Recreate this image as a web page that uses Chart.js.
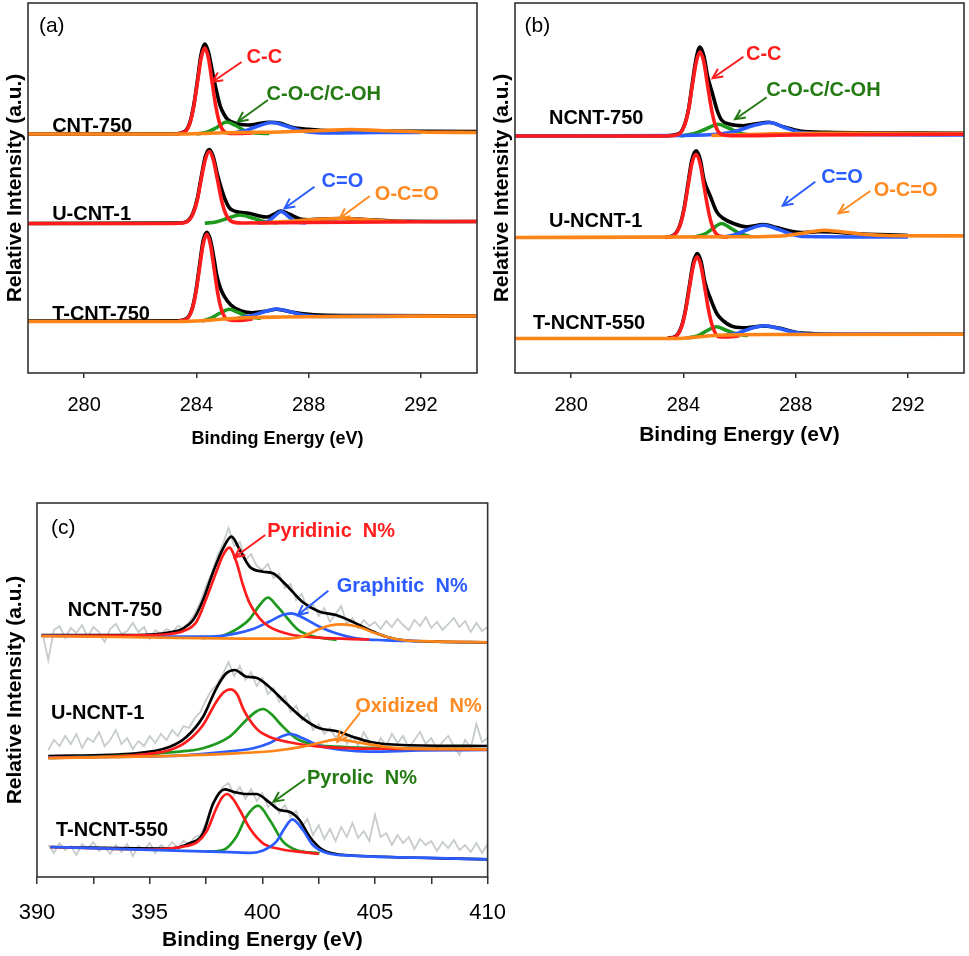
<!DOCTYPE html>
<html>
<head>
<meta charset="utf-8">
<title>XPS C1s / N1s</title>
<script src="https://cdn.jsdelivr.net/npm/chart.js@4.4.1/dist/chart.umd.min.js"></script>
<style>
  html, body { margin: 0; padding: 0; background: #fff; overflow: hidden; }
  canvas { position: absolute; }
</style>
</head>
<body>
<canvas id="chartA" width="485" height="452" style="left:0;top:0"></canvas>
<canvas id="chartB" width="479" height="452" style="left:490px;top:0"></canvas>
<canvas id="chartC" width="522" height="463" style="left:0;top:490px"></canvas>
<script>
// ---- tick values ----
const ticksC1s = [280, 284, 288, 292];
const ticksN1s = [390, 392.5, 395, 397.5, 400, 402.5, 405, 407.5, 410];
const labelsN1s = [390, 395, 400, 405, 410];

// ---- panel (a) : C1s, heights above each spectrum's baseline, [eV, height] ----
const aCnt750Black = [[278,0],[283.3,0.3],[283.6,2.8],[283.78,12.5],[283.91,29.5],[284.04,54],[284.17,80],[284.3,90],[284.43,82],[284.56,64],[284.7,45],[284.85,28],[285.0,19],[285.1,15],[285.4,10.7],[285.8,9],[286.1,9.7],[286.6,11.7],[286.96,11],[287.4,6.7],[288.0,4.7],[288.75,3.3],[290,3],[294,2.5]];
const aCnt750Red = [[283.3,0],[283.6,2.3],[283.78,11.6],[283.91,28],[284.04,52],[284.17,76],[284.3,86],[284.43,76],[284.56,52],[284.69,28],[284.82,11.6],[285.0,2.3],[285.3,0.5],[286,1]];
const aCnt750Green = [[284.0,0],[284.4,2],[284.7,6],[285.07,12],[285.4,8.5],[285.7,3.5],[286.1,1],[286.6,0.5]];
const aCnt750Blue = [[285.2,0.5],[285.7,3],[286.2,8],[286.7,11.5],[287.2,8],[287.7,3.5],[288.2,1.5],[288.8,1],[290.5,1.5],[292,1.5]];
const aCnt750Orange = [[278,0],[283.5,0],[284.5,0.8],[285.5,1.5],[287,2],[288.5,3.5],[289.5,4.5],[290.5,3.5],[292,2],[294,1.5]];

const aUcnt1Black = [[278,0],[283.36,0.4],[283.66,2],[283.88,10.5],[284.03,24.5],[284.17,46],[284.32,67],[284.46,74],[284.6,67],[284.75,49],[284.88,36],[285.04,23],[285.18,15.5],[285.4,12],[285.9,10],[286.25,7.5],[286.5,6.5],[286.75,9],[287.0,12.5],[287.3,9.5],[287.7,4.5],[288.0,3.8],[288.5,4.5],[289.2,5],[290,4],[291,2.5],[294,2]];
const aUcnt1Red = [[278,0],[283.0,0],[283.36,0.3],[283.66,1.6],[283.88,9.7],[284.03,23],[284.17,44],[284.32,64],[284.46,72],[284.6,64],[284.75,44],[284.9,23],[285.04,10],[285.26,2],[285.6,0.5],[288,1],[294,2]];
const aUcnt1Green = [[284.3,0.3],[284.7,1.5],[285.1,5],[285.54,8.5],[286.0,5.5],[286.4,2],[286.9,0.6]];
const aUcnt1Blue = [[286.2,0.4],[286.5,1.5],[286.75,6.5],[287.02,12],[287.3,6.5],[287.55,1.5],[287.9,0.6]];
const aUcnt1Orange = [[286.3,0.5],[287.5,2.5],[288.5,4.5],[289.2,5],[290,4],[290.8,2.5],[291.5,2]];

const aTcnt750Black = [[278,0],[283.37,0.3],[283.67,2.8],[283.85,12.5],[283.98,29.5],[284.11,55],[284.24,80],[284.37,88.7],[284.5,81],[284.63,62],[284.74,44],[284.87,32],[285.0,24.3],[285.23,16],[285.6,10],[286.0,8.3],[286.5,10],[286.85,11.7],[287.44,8.7],[288.0,6.7],[288.4,6],[290,5.5],[294,5]];
const aTcnt750Red = [[283.37,0],[283.67,2.3],[283.85,11.7],[283.98,28],[284.11,52.6],[284.24,76.5],[284.37,86.7],[284.5,76.5],[284.63,52.6],[284.76,28],[284.89,11.7],[285.07,2.3],[285.4,0.5],[286,2]];
const aTcnt750Green = [[284.2,0],[284.5,2.5],[284.85,8],[285.18,11.7],[285.5,8.5],[285.9,4],[286.3,2.8]];
const aTcnt750Blue = [[285.5,3],[286.0,5.5],[286.45,9.5],[286.85,12],[287.3,9.5],[287.8,6],[288.4,4.5],[290,4.6],[292,4.8]];
const aTcnt750Orange = [[278,-0.5],[283.5,-0.5],[284.3,0.5],[285.0,2],[286.0,3.5],[287,4],[289,4.5],[294,5]];

// ---- panel (b) : C1s ----
const bNcnt750Black = [[278,0],[283.4,0.3],[283.84,2.3],[284.05,12],[284.19,28],[284.32,53],[284.46,78],[284.59,89],[284.73,80],[284.86,60],[285.04,42],[285.2,26],[285.36,16],[285.66,11.7],[286.14,10.3],[286.61,12.3],[287.03,13.7],[287.56,9.3],[288.16,5],[289.1,3.7],[294,2.7]];
const bNcnt750Red = [[278,0],[283.4,0],[283.84,1.8],[284.05,11.4],[284.19,27],[284.32,51],[284.46,74],[284.59,84],[284.73,74],[284.86,51],[285.0,27],[285.13,11.4],[285.34,1.8],[285.7,0.3],[288,1],[294,1.7]];
const bNcnt750Green = [[283.9,0],[284.4,2.5],[284.8,7],[285.24,11.7],[285.6,8],[286.0,3],[286.4,0.8]];
const bNcnt750Blue = [[278,0],[284,0.5],[285.3,2],[285.9,5],[286.5,10.5],[287.09,13.5],[287.6,8.5],[288.1,4],[288.6,2.5],[290,1.5],[294,1]];
const bNcnt750Orange = [[285,0.5],[287,2],[289,2.8],[291,2.5],[294,2.5]];

const bUncnt1Black = [[283.35,0.3],[283.65,2.3],[283.87,12],[284.02,28.5],[284.16,53],[284.3,77],[284.45,86.6],[284.6,78],[284.74,57],[284.95,42],[285.19,25.6],[285.43,19],[285.79,14],[286.26,10.6],[286.85,13],[287.33,10],[287.8,6.6],[288.3,5],[288.8,5.8],[289.3,5.5],[290,4],[292,2]];
const bUncnt1Red = [[283.35,0],[283.65,1.8],[283.87,11.3],[284.02,27],[284.16,50.5],[284.3,73.5],[284.45,83.3],[284.6,73.5],[284.74,50.5],[284.89,27],[285.03,11.3],[285.25,1.8],[285.6,0.5]];
const bUncnt1Green = [[284.35,0],[284.8,4],[285.05,9],[285.36,14],[285.7,9],[286.0,4],[286.4,0.8]];
const bUncnt1Blue = [[285.4,0.5],[285.8,2.5],[286.3,8],[286.85,12.3],[287.4,8],[287.9,3],[288.3,1],[292,0.5]];
const bUncnt1Orange = [[278,0],[286,0.7],[287.5,1.5],[288.3,4.5],[289.0,7.3],[289.7,5.5],[290.5,3],[291.5,1.8],[294,1.6]];

const bTncnt550Black = [[283.44,0.3],[283.72,2.3],[283.93,12],[284.07,28],[284.21,52],[284.35,75.5],[284.49,85],[284.63,77],[284.77,56],[284.95,41],[285.19,25],[285.43,17.5],[285.79,11.8],[286.26,10.8],[286.85,12.5],[287.45,10.2],[288.0,6.2],[288.7,4.8],[290,4.3],[294,4.2]];
const bTncnt550Red = [[283.44,0],[283.72,1.8],[283.93,11.1],[284.07,26.6],[284.21,49.6],[284.35,72.2],[284.49,81.8],[284.63,72.2],[284.77,49.6],[284.91,26.6],[285.05,11.1],[285.26,1.8],[285.6,1.5],[286,2.8]];
const bTncnt550Green = [[284.1,0.5],[284.5,2.5],[284.85,8],[285.19,11.8],[285.5,8.5],[285.9,4.5],[286.3,3]];
const bTncnt550Blue = [[285.5,3.5],[285.9,5],[286.4,10],[286.9,12.8],[287.4,10],[287.9,6.5],[288.6,4.2],[291,4.2]];
const bTncnt550Orange = [[278,0],[283.8,0],[284.4,1.2],[285.0,2.8],[285.5,3.5],[287,4],[294,4.2]];

// ---- panel (c) : N1s ----
// raw counts, one value every 0.25 eV
const cNcnt750Raw = [2,-24,6,10,-2,8,3,11,-1,9,4,-6,7,12,2,5,13,4,9,-3,6,2,7,4,10,8,14,22,34,50,62,80,92,108,90,94,76,82,70,66,72,58,62,48,52,36,42,26,32,20,28,14,22,30,12,18,8,16,10,14,7,15,9,17,11,6,16,10,19,8,14,6,12,18,9,15,4,13,5,9];
const cUncnt1Raw = [8,18,12,22,14,24,10,20,16,26,12,18,28,14,20,9,17,12,22,15,24,18,28,22,32,30,40,46,58,68,74,84,96,82,92,78,86,72,80,64,70,56,62,46,52,38,44,28,34,24,30,20,27,14,22,12,26,16,8,20,12,24,15,22,10,18,26,14,20,9,16,22,12,3,18,10,34,16,20];
const cTncnt550Raw = [2,-6,4,-3,1,-8,3,-2,5,-4,0,-7,2,-5,3,-9,1,-3,4,-6,2,-2,5,-1,6,3,10,12,24,40,52,60,64,52,60,48,58,46,54,40,46,34,42,30,36,20,28,12,22,8,18,6,20,10,24,9,16,6,32,10,14,2,12,4,10,-2,8,2,6,-4,5,-1,7,-3,2,-5,4,-6,3];

const cNcnt750Black = [[390.2,1],[394.4,1],[395.9,3.7],[396.5,7.7],[396.93,16],[397.37,36],[397.82,64.3],[398.26,87.7],[398.63,99.3],[399.0,86],[399.44,69.3],[400.03,64.3],[400.47,62.7],[401.06,51],[401.8,33.7],[402.54,24.3],[403.27,21],[404.0,14.3],[404.75,6],[405.5,-0.7],[406.2,-4],[407.7,-5.7],[410,-6.3]];
const cNcnt750Red = [[390.2,0],[394,0.5],[395.9,2],[396.5,5],[397.08,14.3],[397.52,37.7],[397.96,64.3],[398.26,81],[398.53,88.3],[398.85,74],[399.14,51],[399.44,32.7],[399.88,17.7],[400.3,9.3],[401.2,1.7],[402.5,-1.7],[404.75,-3.5]];
const cNcnt750Green = [[397.3,-2.1],[398.2,0],[398.8,6],[399.44,17],[399.85,30],[400.25,38.3],[400.65,30],[401.14,17],[401.6,6],[402.2,0],[403.3,-3.8]];
const cNcnt750Blue = [[390.2,0.3],[396,-0.5],[397.7,-0.5],[398.85,2.7],[399.59,7],[400.3,14.3],[400.9,21],[401.28,22.7],[401.8,18.3],[402.54,9.3],[403.27,2.7],[404.16,-2.3],[405.5,-4.3],[407,-5.2]];
const cNcnt750Orange = [[390.2,0],[395,-1.5],[399,-2.6],[401,-2.7],[401.7,-1],[402.54,7],[403.0,10.5],[403.5,11.7],[404.0,10.5],[404.45,7.7],[405.0,3],[405.5,-0.7],[406.2,-4],[407.5,-5.3],[410,-6.3]];

const cUncnt1Black = [[390.5,2],[394.4,4.7],[395.9,11.3],[396.64,21.3],[397.37,41.3],[397.96,69.7],[398.4,84.7],[398.78,88],[399.29,81.3],[399.73,80.3],[400.3,71.3],[401.06,54.7],[401.8,39.7],[402.54,29.7],[403.27,27],[404.0,21.3],[404.75,16.3],[406.2,13],[410,12]];
const cUncnt1Red = [[390.5,0],[394.4,3],[395.9,8],[396.64,16.3],[397.37,33],[397.96,56.3],[398.3,66],[398.6,68.7],[398.9,63],[399.14,49.7],[399.73,29.7],[400.3,21.3],[401.2,15.7],[402.54,11.3],[404.0,9.7],[406,9.2],[410,8.7]];
const cUncnt1Green = [[390.5,0],[394.4,3],[395.9,5.7],[397.37,9.7],[398.55,21.3],[399.29,38],[399.7,46],[400.03,49],[400.4,44],[400.77,34.7],[401.5,19.7],[402.24,13.7],[403.27,11.3],[405,10],[410,8.7]];
const cUncnt1Blue = [[390.5,0.7],[395.9,2],[398.1,5.7],[399.59,9.7],[400.3,14.7],[400.9,22],[401.28,24],[401.8,19.7],[402.54,12.3],[403.57,8],[404.75,6.3],[407,7.5],[410,8]];
const cUncnt1Orange = [[390.5,0],[394.4,1.3],[398.85,4.7],[400.5,7],[401.8,11.3],[402.6,15.5],[403.3,18.7],[404.0,16.5],[404.75,13.7],[405.5,11],[406.2,9.7],[410,8.7]];

const cTncnt550Black = [[390.6,0],[395.9,-1.5],[396.78,3.7],[397.37,13.7],[397.82,43.7],[398.33,57.7],[398.7,55.3],[399.29,53],[399.73,53],[400.33,44.3],[400.77,37],[401.2,35.3],[401.65,27],[402.1,10.3],[402.68,-3],[403.27,-7],[404,-8.5],[410,-12.3]];
const cTncnt550Red = [[390.6,0],[395,-2.5],[396.64,1],[397.08,4.3],[397.52,15.3],[397.96,38.7],[398.2,49],[398.44,53],[398.7,48],[399.0,37],[399.44,18.7],[400.03,3.7],[400.62,-1.3],[401.8,-5.2],[402.5,-6.8]];
const cTncnt550Green = [[397.5,-4.5],[398.26,-3],[398.85,10.3],[399.29,30.3],[399.81,41.3],[400.33,27],[400.92,5.3],[401.5,-3],[402.54,-6.3]];
const cTncnt550Blue = [[390.6,0],[395,-2.9],[398.5,-5.1],[399.5,-5.8],[400.03,-3.5],[400.62,5.3],[400.99,18.7],[401.33,27.7],[401.8,17],[402.24,2],[402.83,-5.7],[404,-8.7],[407,-10.7],[410,-12.3]];

// ---- styles ----
const FONT = '"Liberation Sans", Arial, Helvetica, sans-serif';
const COL = { gray: '#c6cbcb', black: '#000000', green: '#1f9a1f', blue: '#2b5cff', red: '#ff1c1c', orange: '#ff8418' };
const TXT = { black: '#000000', red: '#ff1c1c', green: '#237a12', blue: '#2b5cff', orange: '#ff8a22' };

Chart.defaults.font.family = FONT;
Chart.defaults.color = '#000';

// raw spectra are sampled on a 0.25 eV grid
function onGrid(start, vals) {
  return vals.map((v, i) => [start + i * 0.25, v]);
}

function spectrumSets(sp, widths) {
  const keys = ['gray', 'black', 'green', 'blue', 'red', 'orange'];
  const baseOrder = { gray: 9, black: 5, green: 4, blue: 3, red: 2, orange: 1 };
  const out = [];
  keys.forEach(k => {
    if (!sp[k]) return;
    out.push({
      label: sp.name + ' ' + k,
      data: sp[k].map(p => ({ x: p[0], y: sp.off + p[1] })),
      borderColor: COL[k],
      borderWidth: k === 'gray' ? widths.raw : widths.fit,
      pointRadius: 0,
      tension: 0,
      cubicInterpolationMode: k === 'gray' ? 'default' : 'monotone',
      order: k === sp.top ? 0 : baseOrder[k]
    });
  });
  return out;
}

// frame, labels, arrows
const annotate = {
  id: 'annotate',
  afterDraw(chart, args, opts) {
    const { ctx, chartArea: a, scales: { x, y } } = chart;
    ctx.save();
    ctx.strokeStyle = '#333';
    ctx.lineWidth = 1.6;
    ctx.strokeRect(a.left, a.top, a.right - a.left, a.bottom - a.top);

    (opts.arrows || []).forEach(ar => {
      const x1 = x.getPixelForValue(ar[0]), y1 = y.getPixelForValue(ar[1]);
      const x2 = x.getPixelForValue(ar[2]), y2 = y.getPixelForValue(ar[3]);
      const ang = Math.atan2(y2 - y1, x2 - x1);
      ctx.strokeStyle = TXT[ar[4]];
      ctx.lineWidth = 2;
      ctx.beginPath();
      ctx.moveTo(x1, y1);
      ctx.lineTo(x2, y2);
      ctx.stroke();
      ctx.beginPath();
      ctx.moveTo(x2 - 11 * Math.cos(ang - 0.45), y2 - 11 * Math.sin(ang - 0.45));
      ctx.lineTo(x2, y2);
      ctx.lineTo(x2 - 11 * Math.cos(ang + 0.45), y2 - 11 * Math.sin(ang + 0.45));
      ctx.stroke();
    });

    ctx.textAlign = 'left';
    ctx.textBaseline = 'middle';
    (opts.labels || []).forEach(lb => {
      ctx.fillStyle = TXT[lb.c || 'black'];
      ctx.font = (lb.bold === false ? '' : 'bold ') + (lb.size || 20) + 'px ' + FONT;
      ctx.fillText(lb.t, x.getPixelForValue(lb.x), y.getPixelForValue(lb.y));
    });

    if (opts.xTitle) {
      ctx.fillStyle = '#000';
      ctx.textAlign = 'center';
      ctx.font = 'bold ' + opts.xTitle.size + 'px ' + FONT;
      ctx.fillText(opts.xTitle.text, (a.left + a.right) / 2 + opts.xTitle.shift, opts.xTitle.y);
    }
    ctx.restore();
  }
};

function makeChart(id, p) {
  const datasets = p.spectra.flatMap(sp => spectrumSets(sp, p.widths));
  return new Chart(document.getElementById(id), {
    type: 'line',
    data: { datasets },
    options: {
      responsive: false,
      animation: false,
      events: [],
      layout: { padding: p.padding },
      plugins: {
        legend: { display: false },
        tooltip: { enabled: false },
        annotate: { labels: p.labels, arrows: p.arrows, xTitle: p.ownTitle }
      },
      scales: {
        x: {
          type: 'linear',
          min: p.xMin,
          max: p.xMax,
          afterBuildTicks: s => { s.ticks = p.ticks.map(v => ({ value: v })); },
          afterFit: s => { s.height = p.xAxisH; },
          ticks: {
            autoSkip: false,
            maxRotation: 0,
            padding: p.tickPad,
            color: '#000',
            font: { size: p.tickSize },
            callback: v => (p.tickLabels.includes(v) ? String(v) : '')
          },
          grid: { display: true, drawOnChartArea: false, drawTicks: true, tickLength: p.tickLen, color: '#333', lineWidth: 1.5 },
          border: { display: false },
          title: {
            display: !p.ownTitle,
            text: 'Binding Energy (eV)',
            color: '#000',
            font: { size: p.xTitleSize, weight: 'bold' },
            padding: { top: 0, bottom: p.xTitlePad }
          }
        },
        y: {
          min: 0,
          max: p.yMax,
          ticks: { display: false },
          grid: { display: false },
          border: { display: false },
          afterFit: s => { s.width = p.yAxisW; },
          title: {
            display: true,
            text: 'Relative Intensity (a.u.)',
            color: '#000',
            font: { size: 21, weight: 'bold' },
            padding: { top: p.yTitlePad, bottom: 0 }
          }
        }
      }
    },
    plugins: [annotate]
  });
}

// ---- panel (a) ----
makeChart('chartA', {
  xMin: 278, xMax: 294, yMax: 370,
  ticks: ticksC1s, tickLabels: ticksC1s, tickSize: 20, tickPad: 15, tickLen: 5,
  padding: { top: 3, right: 8, left: 0, bottom: 0 },
  xAxisH: 79, yAxisW: 28, yTitlePad: 3,
  ownTitle: { text: 'Binding Energy (eV)', size: 18, shift: 25, y: 439 },
  widths: { fit: 3.6, raw: 1.8 },
  spectra: [
    { name: 'CNT-750', off: 239, top: 'orange', black: aCnt750Black, green: aCnt750Green, blue: aCnt750Blue, red: aCnt750Red, orange: aCnt750Orange },
    { name: 'U-CNT-1', off: 149.5, top: 'red', black: aUcnt1Black, green: aUcnt1Green, blue: aUcnt1Blue, red: aUcnt1Red, orange: aUcnt1Orange },
    { name: 'T-CNT-750', off: 52, top: 'orange', black: aTcnt750Black, green: aTcnt750Green, blue: aTcnt750Blue, red: aTcnt750Red, orange: aTcnt750Orange }
  ],
  labels: [
    { t: '(a)', x: 278.39, y: 346.5, bold: false, size: 21 },
    { t: 'CNT-750', x: 278.86, y: 246.5 },
    { t: 'U-CNT-1', x: 278.86, y: 158.5 },
    { t: 'T-CNT-750', x: 278.86, y: 58.5 },
    { t: 'C-C', x: 285.79, y: 315.5, c: 'red' },
    { t: 'C-O-C/C-OH', x: 286.5, y: 278.5, c: 'green' },
    { t: 'C=O', x: 288.46, y: 191.5, c: 'blue' },
    { t: 'O-C=O', x: 290.36, y: 178.5, c: 'orange' }
  ],
  arrows: [
    [285.61, 311, 284.57, 291, 'red'],
    [286.55, 273, 285.475, 251.3, 'green'],
    [288.21, 186.3, 287.14, 164.7, 'blue'],
    [290.18, 177, 289.11, 154.7, 'orange']
  ]
});

// ---- panel (b) ----
makeChart('chartB', {
  xMin: 278, xMax: 294, yMax: 370,
  ticks: ticksC1s, tickLabels: ticksC1s, tickSize: 20, tickPad: 15, tickLen: 5,
  padding: { top: 3, right: 5, left: 0, bottom: 0 },
  xAxisH: 79, yAxisW: 25, yTitlePad: 0,
  xTitleSize: 21, xTitlePad: 4,
  widths: { fit: 3.6, raw: 1.8 },
  spectra: [
    { name: 'NCNT-750', off: 237, top: 'red', black: bNcnt750Black, green: bNcnt750Green, blue: bNcnt750Blue, red: bNcnt750Red, orange: bNcnt750Orange },
    { name: 'U-NCNT-1', off: 135.5, top: 'orange', black: bUncnt1Black, green: bUncnt1Green, blue: bUncnt1Blue, red: bUncnt1Red, orange: bUncnt1Orange },
    { name: 'T-NCNT-550', off: 34.5, top: 'orange', black: bTncnt550Black, green: bTncnt550Green, blue: bTncnt550Blue, red: bTncnt550Red, orange: bTncnt550Orange }
  ],
  labels: [
    { t: '(b)', x: 278.34, y: 346.5, bold: false, size: 21 },
    { t: 'NCNT-750', x: 279.21, y: 255 },
    { t: 'U-NCNT-1', x: 279.21, y: 151.3 },
    { t: 'T-NCNT-550', x: 278.64, y: 49.5 },
    { t: 'C-C', x: 286.23, y: 318.5, c: 'red' },
    { t: 'C-O-C/C-OH', x: 286.95, y: 282.2, c: 'green' },
    { t: 'C=O', x: 288.91, y: 196, c: 'blue' },
    { t: 'O-C=O', x: 290.78, y: 183, c: 'orange' }
  ],
  arrows: [
    [286.14, 316.3, 285.04, 294.7, 'red'],
    [286.97, 275.7, 285.84, 253.7, 'green'],
    [288.7, 191.3, 287.54, 167.3, 'blue'],
    [290.66, 182, 289.53, 159.7, 'orange']
  ]
});

// ---- panel (c) ----
makeChart('chartC', {
  xMin: 390, xMax: 410, yMax: 374,
  ticks: ticksN1s, tickLabels: labelsN1s, tickSize: 22, tickPad: 16, tickLen: 7,
  padding: { top: 13, right: 0, left: 0, bottom: 0 },
  xAxisH: 76, yAxisW: 37, yTitlePad: 3,
  xTitleSize: 21, xTitlePad: 0,
  widths: { fit: 2.7, raw: 1.8 },
  spectra: [
    { name: 'NCNT-750', off: 241, top: 'orange', gray: onGrid(390.25, cNcnt750Raw), black: cNcnt750Black, green: cNcnt750Green, blue: cNcnt750Blue, red: cNcnt750Red, orange: cNcnt750Orange },
    { name: 'U-NCNT-1', off: 119, top: 'orange', gray: onGrid(390.5, cUncnt1Raw), black: cUncnt1Black, green: cUncnt1Green, blue: cUncnt1Blue, red: cUncnt1Red, orange: cUncnt1Orange },
    { name: 'T-NCNT-550', off: 30, top: 'blue', gray: onGrid(390.5, cTncnt550Raw), black: cTncnt550Black, green: cTncnt550Green, blue: cTncnt550Blue, red: cTncnt550Red }
  ],
  labels: [
    { t: '(c)', x: 390.62, y: 349, bold: false, size: 21 },
    { t: 'NCNT-750', x: 391.37, y: 267 },
    { t: 'U-NCNT-1', x: 390.62, y: 163.7 },
    { t: 'T-NCNT-550', x: 390.84, y: 47 },
    { t: 'Pyridinic  N%', x: 400.22, y: 345.3, c: 'red' },
    { t: 'Graphitic  N%', x: 403.3, y: 290.3, c: 'blue' },
    { t: 'Oxidized  N%', x: 404.12, y: 170.3, c: 'orange' },
    { t: 'Pyrolic  N%', x: 401.98, y: 98.7, c: 'green' }
  ],
  arrows: [
    [400.13, 342, 398.77, 319.7, 'red'],
    [402.93, 286.3, 401.58, 262, 'blue'],
    [404.34, 164.3, 403.33, 135.3, 'orange'],
    [401.9, 97.7, 400.5, 75.3, 'green']
  ]
});
</script>
</body>
</html>
